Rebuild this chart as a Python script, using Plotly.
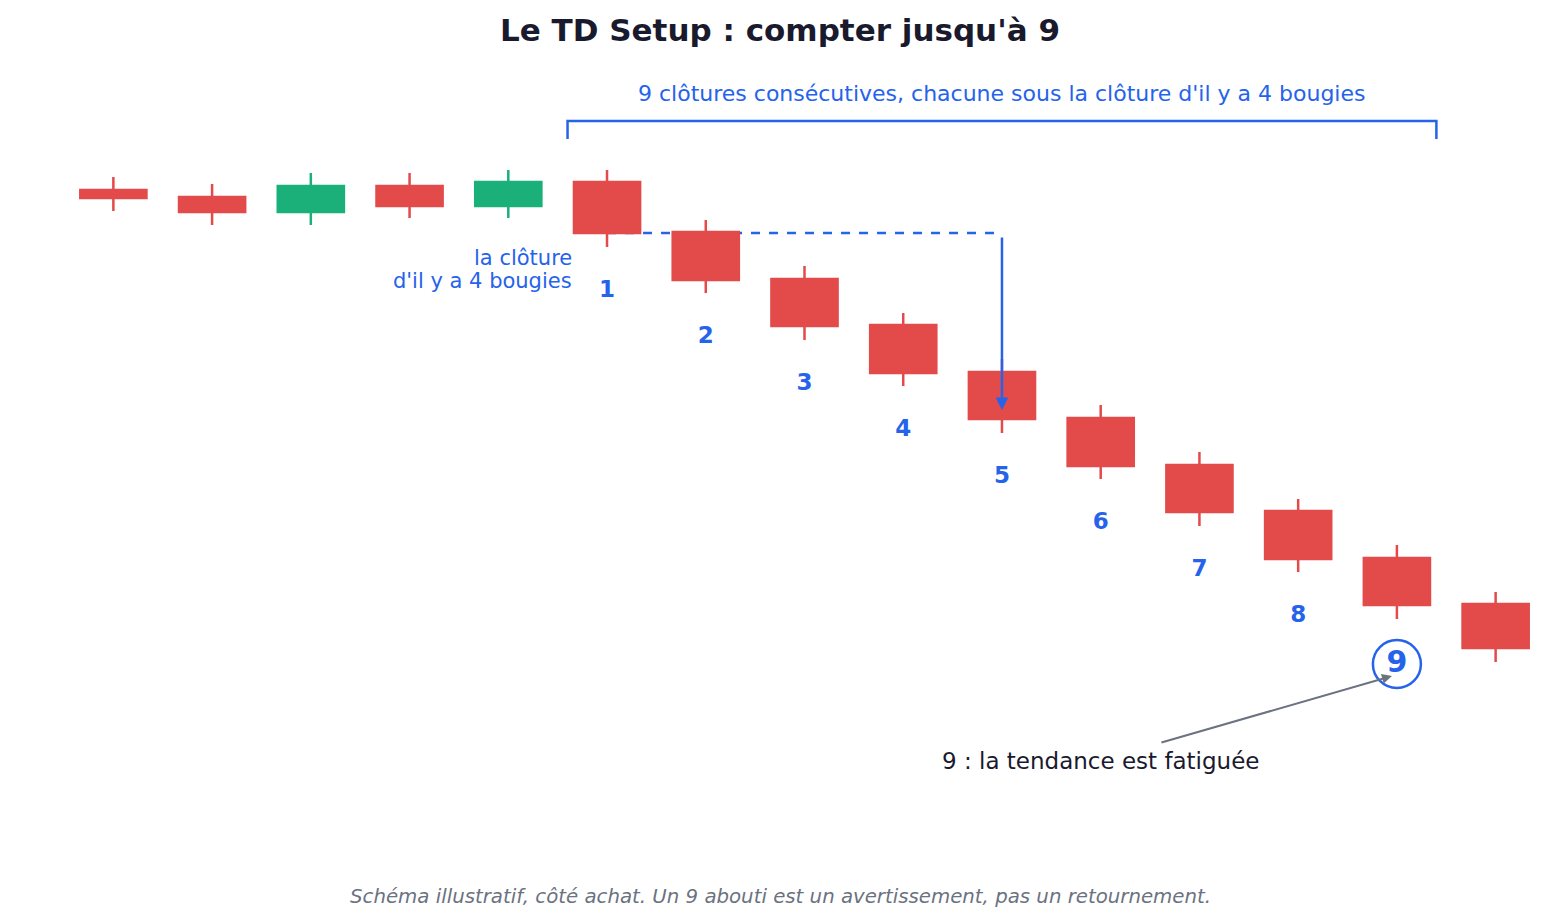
import plotly.graph_objects as go

# Bougies (prix fictifs)
bars = list(range(15))
opens = [101.0, 100.3, 98.8, 101.4, 99.4, 101.8, 96.8, 92.1, 87.5, 82.8, 78.2, 73.5, 68.9, 64.2, 59.6]
closes = [100.2, 98.8, 101.4, 99.4, 101.8, 96.7, 92.0, 87.4, 82.7, 78.1, 73.4, 68.8, 64.1, 59.5, 55.2]
highs = [102.3, 101.6, 102.7, 102.7, 103.0, 103.0, 98.0, 93.4, 88.7, 84.1, 79.5, 74.8, 70.1, 65.5, 60.8]
lows = [98.9, 97.5, 97.5, 98.2, 98.2, 95.3, 90.7, 86.0, 81.4, 76.7, 72.1, 67.4, 62.8, 58.1, 53.8]

# Compte du setup : bougies 5 à 13
count_bars = [5, 6, 7, 8, 9, 10, 11, 12]
count_labels = ["1", "2", "3", "4", "5", "6", "7", "8"]

RED = "#e34b4b"
GREEN = "#1bb07a"
BLUE = "#2563eb"
GRAY = "#6b7280"
DARK = "#1a1a2e"
FONT = "DejaVu Sans"

fig = go.Figure()

fig.add_trace(go.Candlestick(
    x=bars, open=opens, high=highs, low=lows, close=closes,
    increasing=dict(line=dict(color=GREEN, width=2.5), fillcolor=GREEN),
    decreasing=dict(line=dict(color=RED, width=2.5), fillcolor=RED),
    whiskerwidth=0,
    hoverinfo="skip",
    showlegend=False,
))

# numéros 1..8 sous chaque bougie
fig.add_trace(go.Scatter(
    x=count_bars,
    y=[lows[i] - 4.4 for i in count_bars],
    mode="text",
    text=count_labels,
    textfont=dict(family=FONT, size=23, color=BLUE, weight="bold"),
    hoverinfo="skip",
    showlegend=False,
))

# le 9 entouré
fig.add_trace(go.Scatter(
    x=[13], y=[lows[13] - 4.5],
    mode="markers+text",
    text=["9"],
    textposition="middle center",
    textfont=dict(family=FONT, size=30, color=BLUE, weight="bold"),
    marker=dict(size=48, color="rgba(0,0,0,0)", line=dict(color=BLUE, width=2.5)),
    hoverinfo="skip",
    showlegend=False,
))

# ligne pointillée : clôture de la bougie 1 comparée 4 bougies plus tard
fig.add_shape(type="line", x0=5, x1=9, y0=closes[5], y1=closes[5],
              line=dict(color=BLUE, width=2.5, dash="dash"), layer="below")

# accolade au-dessus des 9 bougies
fig.add_shape(type="path", path="M 4.6,106.1 L 4.6,107.9 L 13.4,107.9 L 13.4,106.1",
              line=dict(color=BLUE, width=2.5))

annotations = [
    dict(x=9, y=79.0, ax=9, ay=closes[5] - 0.3, axref="x", ayref="y",
         showarrow=True, arrowhead=2, arrowsize=1, arrowwidth=2.5, arrowcolor=BLUE, text=""),
    dict(x=4.665, y=94.2, xanchor="right", yanchor="middle", showarrow=False,
         text="la clôture", font=dict(family=FONT, size=21, color=BLUE)),
    dict(x=4.665, y=91.9, xanchor="right", yanchor="middle", showarrow=False,
         text="d'il y a 4 bougies", font=dict(family=FONT, size=21, color=BLUE)),
    dict(x=9, y=110.7, showarrow=False,
         text="9 clôtures consécutives, chacune sous la clôture d'il y a 4 bougies",
         font=dict(family=FONT, size=22, color=BLUE)),
    dict(x=10.0, y=43.9, showarrow=False, text="9 : la tendance est fatiguée",
         font=dict(family=FONT, size=23, color=DARK)),
    dict(x=12.95, y=52.4, ax=10.6, ay=45.7, axref="x", ayref="y",
         showarrow=True, arrowhead=2, arrowsize=1, arrowwidth=2, arrowcolor=GRAY, text=""),
    dict(x=(780 - 64) / 1481, y=0.0216, xref="paper", yref="paper", showarrow=False,
         text="<i>Schéma illustratif, côté achat. Un 9 abouti est un avertissement, pas un retournement.</i>",
         font=dict(family=FONT, size=19.75, color=GRAY)),
]

fig.update_layout(
    width=1560, height=922,
    margin=dict(l=56, r=23, t=0, b=0),
    paper_bgcolor="white", plot_bgcolor="white",
    boxgap=0.33, boxgroupgap=0,
    title=dict(text="<b>Le TD Setup : compter jusqu'à 9</b>", x=772 / 1560, xanchor="center",
               y=0.976, yanchor="middle", font=dict(family=FONT, size=31, color=DARK)),
    xaxis=dict(range=[-0.5, 14.5], visible=False, rangeslider=dict(visible=False)),
    yaxis=dict(range=[27.0, 119.2], visible=False),
    annotations=annotations,
    font=dict(family=FONT),
)

fig.write_html("out.html")
